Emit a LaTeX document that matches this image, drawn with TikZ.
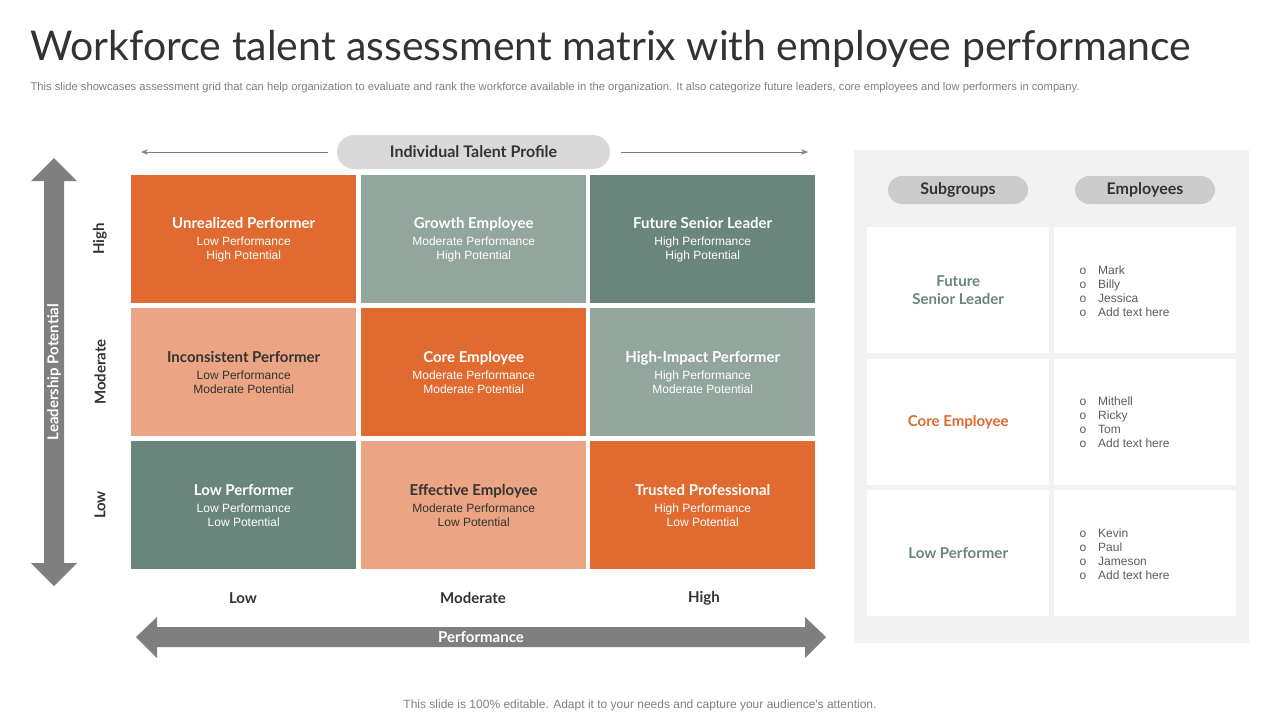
\documentclass[tikz,border=0pt]{standalone}
\usepackage{fontspec}
\setmainfont{Lato}
\newfontfamily\arialf{Liberation Sans}
\usetikzlibrary{arrows.meta}
\definecolor{org}{HTML}{E06A2F}
\definecolor{lorg}{HTML}{EBA584}
\definecolor{lgrn}{HTML}{93A69E}
\definecolor{dgrn}{HTML}{6A867C}
\definecolor{txt}{HTML}{333333}
\definecolor{arr}{HTML}{7F7F7F}
\tikzset{
 cell/.style={minimum width=225pt,minimum height=128pt,inner sep=0pt,anchor=north west,align=center,font=\arialf\fontsize{12}{14}\selectfont},
 wbox/.style={fill=white,minimum width=182pt,minimum height=126pt,inner sep=0pt,anchor=north west,align=center},
 pill/.style={fill=#1,rounded corners=14pt,inner sep=0pt,font=\fontsize{16}{18}\selectfont\bfseries,text=txt},
 ax/.style={font=\fontsize{15}{17}\selectfont\bfseries,text=txt},
}
\begin{document}
\begin{tikzpicture}[x=1pt,y=-1pt]
\useasboundingbox (0,0) rectangle (1280,720);
\node[anchor=west,text=txt,font=\fontsize{41}{43}\selectfont] (title) at (27,49) {Workforce talent assessment matrix with employee performance};
\node[anchor=west,text=arr,font=\arialf\fontsize{11.2}{13}\selectfont] (sub) at (27,88) {This slide showcases assessment grid that can help organization to evaluate and rank the workforce available in the organization. It also categorize future leaders, core employees and low performers in company.};
\node[pill=black!15,minimum width=273pt,minimum height=34pt,rounded corners=17pt] (itp) at (473.5,152) {Individual Talent Profile};
\coordinate (la) at (141,152); \coordinate (lb) at (328,152);
\coordinate (ra) at (621,152); \coordinate (rb) at (808,152);
\draw[arr,-{Stealth[length=7pt]}] (lb) -- (la);
\draw[arr,-{Stealth[length=7pt]}] (ra) -- (rb);
\node[cell,fill=org,text=white] (c11) at (131,175) {{\rmfamily\fontsize{15}{18}\selectfont\bfseries Unrealized Performer}\\[3pt]Low Performance\\High Potential};
\node[cell,fill=lgrn,text=white] (c12) at (361,175) {{\rmfamily\fontsize{15}{18}\selectfont\bfseries Growth Employee}\\[3pt]Moderate Performance\\High Potential};
\node[cell,fill=dgrn,text=white] (c13) at (590,175) {{\rmfamily\fontsize{15}{18}\selectfont\bfseries Future Senior Leader}\\[3pt]High Performance\\High Potential};
\node[cell,fill=lorg,text=txt] (c21) at (131,308) {{\rmfamily\fontsize{15}{18}\selectfont\bfseries Inconsistent Performer}\\[3pt]Low Performance\\Moderate Potential};
\node[cell,fill=org,text=white] (c22) at (361,308) {{\rmfamily\fontsize{15}{18}\selectfont\bfseries Core Employee}\\[3pt]Moderate Performance\\Moderate Potential};
\node[cell,fill=lgrn,text=white] (c23) at (590,308) {{\rmfamily\fontsize{15}{18}\selectfont\bfseries High-Impact Performer}\\[3pt]High Performance\\Moderate Potential};
\node[cell,fill=dgrn,text=white] (c31) at (131,441) {{\rmfamily\fontsize{15}{18}\selectfont\bfseries Low Performer}\\[3pt]Low Performance\\Low Potential};
\node[cell,fill=lorg,text=txt] (c32) at (361,441) {{\rmfamily\fontsize{15}{18}\selectfont\bfseries Effective Employee}\\[3pt]Moderate Performance\\Low Potential};
\node[cell,fill=org,text=white] (c33) at (590,441) {{\rmfamily\fontsize{15}{18}\selectfont\bfseries Trusted Professional}\\[3pt]High Performance\\Low Potential};
\node[ax,rotate=90] (yh) at (100,239) {High};
\node[ax,rotate=90] (ym) at (100,372) {Moderate};
\node[ax,rotate=90] (yl) at (100,505) {Low};
\node[ax] (xl) at (243,598) {Low};
\node[ax] (xm) at (473,598) {Moderate};
\node[ax] (xh) at (704,598) {High};
\fill[arr] (54,158) -- (77,181) -- (64,181) -- (64,563) -- (77,563) -- (54,586) -- (31,563) -- (44,563) -- (44,181) -- (31,181) -- cycle;
\node[rotate=90,text=white,font=\fontsize{15}{17}\selectfont\bfseries] (lp) at (54,372) {Leadership Potential};
\fill[arr] (136,637) -- (157,617) -- (157,627) -- (805,627) -- (805,617) -- (826,637) -- (805,658) -- (805,647) -- (157,647) -- (157,658) -- cycle;
\node[text=white,font=\fontsize{15}{17}\selectfont\bfseries] (perf) at (481,637) {Performance};
\fill[black!5] (854,150) rectangle (1249,643);
\node[pill=black!20,minimum width=140pt,minimum height=28pt] (sg) at (958,190) {Subgroups};
\node[pill=black!20,minimum width=140pt,minimum height=28pt] (em) at (1145,190) {Employees};
\tikzset{sgt/.style={font=\fontsize{15}{18}\selectfont\bfseries},
 lst/.style={font=\arialf\fontsize{12}{14}\selectfont,text=txt!80,align=left}}
\node[wbox,text=dgrn,sgt] (s1) at (867,227) {Future\\Senior Leader};
\node[wbox,text=org,sgt] (s2) at (867,359) {Core Employee};
\node[wbox,text=dgrn,sgt] (s3) at (867,490) {Low Performer};
\node[wbox] (e1) at (1054,227) {};
\node[wbox] (e2) at (1054,359) {};
\node[wbox] (e3) at (1054,490) {};
\node[lst,anchor=west] (l1) at (1076,291) {o\quad Mark\\o\quad Billy\\o\quad Jessica\\o\quad Add text here};
\node[lst,anchor=west] (l2) at (1076,422) {o\quad Mithell\\o\quad Ricky\\o\quad Tom\\o\quad Add text here};
\node[lst,anchor=west] (l3) at (1076,554) {o\quad Kevin\\o\quad Paul\\o\quad Jameson\\o\quad Add text here};
\node[text=arr,font=\arialf\fontsize{12}{14}\selectfont] (foot) at (640,705) {This slide is 100\% editable. Adapt it to your needs and capture your audience's attention.};
\end{tikzpicture}
\end{document}
